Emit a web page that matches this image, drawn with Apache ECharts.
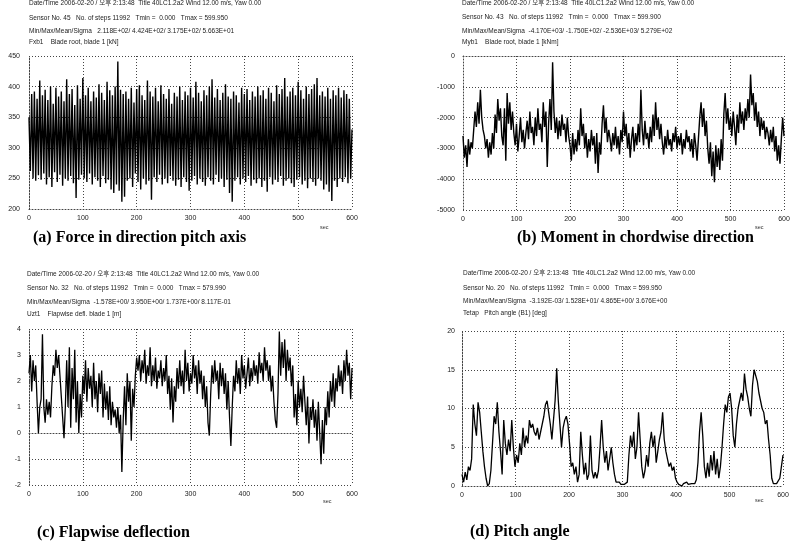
<!DOCTYPE html>
<html><head><meta charset="utf-8">
<script src="https://cdn.jsdelivr.net/npm/echarts@6/dist/echarts.min.js"></script>
<style>html,body{margin:0;padding:0;background:#fff}#c{width:796px;height:549px}</style>
</head><body><div id="c"></div>
<script>
// (a) Fxb1 blade root force [kN], samples evenly spaced over 0..600 s
const forceFxb1 = [
350,262,388,250,392,246,380,255,410,248,
386,258,395,240,378,252,400,236,372,260,
398,244,384,256,392,238,376,250,412,246,
388,254,396,242,370,218,402,248,380,256,
414,250,386,244,398,258,376,240,392,252,
382,246,404,236,390,254,378,242,408,248,
394,232,386,226,400,240,441,230,395,212,
388,220,392,246,380,250,398,236,374,258,
396,244,402,232,386,250,378,240,410,246,
392,215,384,252,398,244,376,256,402,240,
388,250,380,242,396,254,372,246,390,238,
384,248,400,236,378,252,392,244,386,230,
398,246,382,254,408,240,390,250,376,244,
394,238,386,252,400,246,412,240,382,256,
396,244,378,250,390,236,404,248,384,226,
380,212,392,246,386,252,374,240,398,250,
388,244,396,254,378,238,392,248,384,242,
400,250,386,236,394,246,380,228,398,252,
390,240,376,248,402,244,388,254,396,238,
414,246,384,250,392,242,398,236,386,248,
408,252,394,240,380,246,400,234,388,250,
396,244,404,238,414,250,386,246,392,232,
384,240,398,228,380,213,394,246,386,236,
398,250,382,244,394,252,388,242,380,250,
330];
// (b) Myb1 blade root moment [kNm]
const momentMyb1 = [
-2600,-3300,-2900,-3600,-2700,-3200,-2800,
-3000,-2400,-1800,-2300,-1500,-2200,-1100,-2000,-2400,
-2600,-3000,-2700,-3300,-2800,-3200,-2500,-3000,
-1900,-2500,-1400,-2100,-1700,-2600,
-2900,-1700,-3400,-1200,-2200,-1500,-2400,-1800,
-2500,-2900,-2200,-3100,-2600,-2000,-2800,-2400,-3000,-2500,
-2100,-2700,-1800,-2500,-2300,-2900,-2000,-2600,-1700,-2400,-2200,-2800,
-1500,-2300,-1800,-3600,-2200,-1400,-2400,
-200,
-1800,-2500,-2000,-2700,-2100,-2600,-1900,-2400,-2200,-2800,-2000,-2600,
-2900,-3400,-2500,-3200,-2700,-3100,-2400,-2900,-1700,-2600,-2200,-3000,-2500,-3300,-2700,-3100,-2400,-2900,-2600,-3500,-2500,-3800,-2800,-3200,
-2200,-1600,-2500,-2000,-2800,-2400,
-2700,-3100,-2500,-2900,-2300,-3000,-2600,-3200,-2400,-2800,-1800,-2600,-2200,-3000,-2500,-3300,-2700,-2300,-3100,-2500,-2900,-2200,-2800,
-1100,
-2400,-2900,-2100,-2700,-2500,-3000,-2300,-2800,-1900,-2600,
-1500,-2400,-2000,-2700,-2200,
-2800,-3200,-2600,-3000,-2400,-2900,-2700,-3100,-2500,-2800,-2300,-3000,-2600,-2900,-2500,-3200,-2700,-3000,-2400,-2800,-2600,-3100,-2700,-3300,-2500,-2900,-3400,-2700,
-2000,-1500,-2300,-1700,-2600,-2100,
-3000,-3500,-2800,-3900,-3100,-4100,-2900,-3600,-3000,-3700,-2700,-3400,
-1900,-1200,-2200,-1700,-2400,
-2000,-2600,-1800,-2300,-2900,-1900,-2500,-1500,-2200,-1800,-2400,-1700,-2100,
-1400,-2000,-600,-1600,-1200,-2100,-1500,
-2300,-1800,-2600,-2000,-2400,-2100,-2700,-2300,-2500,-2900,-2400,-2800,-2300,-3100,-2600,-3400,-2900,-3500,-2700,-2000,-2600];
// (c) Uzt1 flapwise deflection [m]
const deflUzt1 = [
2.3,3.0,1.6,2.8,2.0,2.6,
1.2,0.0,1.0,1.3,
3.8,
1.0,0.4,1.3,0.7,1.2,0.6,
1.8,2.6,2.2,3.2,2.5,3.0,2.2,1.4,
0.6,-0.2,1.0,2.8,
1.0,3.3,0.2,2.5,1.3,3.2,0.4,2.0,
0.0,1.5,0.6,
2.2,1.5,2.8,1.2,2.5,1.7,2.2,1.0,2.7,1.3,2.0,0.8,2.3,1.5,
2.4,0.6,1.9,0.9,1.6,0.5,1.8,0.3,1.2,0.6,0.9,
0.2,1.0,0.0,0.7,-1.5,0.5,
1.8,0.3,2.3,1.2,2.0,-0.3,1.7,1.0,2.2,
2.9,2.4,3.0,2.0,2.8,2.3,3.2,1.9,2.6,2.2,3.3,
1.8,2.6,2.0,2.9,1.7,2.4,2.1,2.8,1.8,2.5,2.0,3.0,1.5,2.2,0.9,2.1,
0.4,1.8,1.2,2.5,
1.7,2.8,1.8,2.4,1.5,3.2,2.0,2.7,1.6,2.3,1.9,3.0,2.1,2.6,1.5,2.8,1.9,2.4,1.3,2.2,1.0,1.8,
0.4,-0.1,
1.5,2.6,1.9,2.8,2.0,2.4,1.3,2.7,1.8,2.5,1.5,2.3,0.9,2.0,0.6,
-0.5,1.0,
2.2,1.6,2.8,1.9,2.5,1.5,3.0,2.1,2.6,1.7,2.3,2.9,1.8,2.5,2.0,2.8,2.2,2.6,1.9,3.1,2.3,2.7,2.0,3.3,2.4,2.8,2.0,2.6,1.6,2.2,1.2,
0.5,0.2,1.5,
3.9,
2.2,3.5,2.5,3.6,2.0,3.2,2.4,2.9,1.8,2.6,
0.6,1.5,0.3,2.0,1.0,1.7,0.8,2.2,
1.2,0.3,1.4,-0.4,1.0,0.5,1.3,0.2,0.9,-0.3,1.2,0.0,-1.2,0.5,-0.8,1.0,0.3,
1.6,0.6,2.0,1.2,2.3,1.0,2.1,1.6,2.6,1.8,2.4,1.5,2.8,2.0,3.2,2.2,2.7,1.3,2.5];
// (d) Tetap pitch angle [deg]
const pitchTetap = [
1.5,0.5,1.8,0.8,2.5,2.0,3.5,10.5,8.0,6.5,
10.8,9.5,7.0,4.5,2.5,1.0,0.0,0.3,2.0,5.5,
9.0,8.0,10.8,7.0,4.5,1.5,8.5,5.5,4.0,6.0,
4.5,8.5,5.0,2.5,4.0,3.0,5.5,4.0,7.5,5.0,
6.5,5.5,8.5,7.5,8.0,7.0,6.5,7.5,6.0,7.0,
8.0,9.0,10.5,11.0,9.5,8.0,6.0,8.5,11.0,15.2,
11.0,8.0,5.0,7.5,8.5,9.0,8.0,5.5,2.5,3.0,
1.5,2.5,0.5,1.5,7.0,4.0,1.5,3.0,0.8,1.5,
6.5,2.0,1.0,1.8,1.0,2.0,5.0,8.5,5.0,3.0,
4.5,2.0,3.5,5.0,3.0,1.5,0.5,0.3,0.5,0.2,
0.3,0.2,0.0,0.5,4.0,6.5,5.0,7.0,3.5,5.0,
9.5,6.0,2.5,1.0,2.0,4.0,2.5,5.5,7.0,5.0,
6.5,3.0,4.5,6.0,7.0,9.5,6.0,4.5,4.5,2.5,
3.0,2.0,2.5,1.0,0.5,0.2,0.1,0.0,0.3,0.1,
0.5,0.2,0.0,0.3,0.5,0.3,0.8,3.0,7.0,9.5,
6.5,2.5,1.0,3.0,1.2,4.0,2.0,4.5,1.5,3.5,
1.0,2.5,5.0,8.0,10.5,9.5,11.5,12.0,10.0,6.5,
5.0,8.0,10.0,11.0,12.0,11.0,14.5,12.5,11.5,10.0,
9.0,13.0,15.0,15.2,13.5,12.0,11.0,10.0,9.5,8.0,
8.5,6.0,4.0,1.0,0.3,0.4,0.3,0.5,1.0,2.5,
4.0];
const xTickLabels = ['0','100','200','300','400','500','600'];
const yRanges = [[200,450,50],[-5000,0,1000],[-2,4,1],[0,20,5]];
const captions = ['(a) Force in direction pitch axis','(b) Moment in chordwise direction','(c) Flapwise deflection','(d) Pitch angle'];
const headerLines = [
 ['Date/Time 2006-02-20 / 오후 2:13:48  Title 40LC1.2a2 Wind 12.00 m/s, Yaw 0.00',
  'Sensor No. 45   No. of steps 11992   Tmin =  0.000   Tmax = 599.950',
  'Min/Max/Mean/Sigma   2.118E+02/ 4.424E+02/ 3.175E+02/ 5.663E+01',
  'Fxb1    Blade root, blade 1 [kN]'],
 ['Date/Time 2006-02-20 / 오후 2:13:48  Title 40LC1.2a2 Wind 12.00 m/s, Yaw 0.00',
  'Sensor No. 43   No. of steps 11992   Tmin =  0.000   Tmax = 599.900',
  'Min/Max/Mean/Sigma  -4.170E+03/ -1.750E+02/ -2.536E+03/ 5.279E+02',
  'Myb1    Blade root, blade 1 [kNm]'],
 ['Date/Time 2006-02-20 / 오후 2:13:48  Title 40LC1.2a2 Wind 12.00 m/s, Yaw 0.00',
  'Sensor No. 32   No. of steps 11992   Tmin =  0.000   Tmax = 579.990',
  'Min/Max/Mean/Sigma  -1.578E+00/ 3.950E+00/ 1.737E+00/ 8.117E-01',
  'Uzt1    Flapwise defl. blade 1 [m]'],
 ['Date/Time 2006-02-20 / 오후 2:13:48  Title 40LC1.2a2 Wind 12.00 m/s, Yaw 0.00',
  'Sensor No. 20   No. of steps 11992   Tmin =  0.000   Tmax = 599.950',
  'Min/Max/Mean/Sigma  -3.192E-03/ 1.528E+01/ 4.865E+00/ 3.676E+00',
  'Tetap   Pitch angle (B1) [deg]']
];
const seriesData = [forceFxb1, momentMyb1, deflUzt1, pitchTetap];

const grids = [
 {left:29, top:56, width:323, height:153},
 {left:463, top:56, width:321, height:154},
 {left:29, top:329, width:323, height:156},
 {left:462, top:331, width:321, height:155}
];
const headerY = [[4,19,32,43],[4,18,32,43],[275,289,303,315],[274,289,302,314]];
const headerX = [29,462,27,463];
const capPos = [[33,239],[517,239],[37,534],[470,533]];
const secPos = [[320,228],[755,228],[323,502],[755,501]];
const yMargins = [9,8,8,7];
const lineWidths = [1.4,1.4,1.3,1.3];

const FONT = 'Liberation Sans, Noto Sans CJK KR, sans-serif';
const dotted = {color:'#444', width:1, type:[1,2]};

function toPairs(arr){ const n = arr.length-1; return arr.map((v,i)=>[i*600/n, v]); }

const xAxis = grids.map((g,i)=>({
  type:'value', gridIndex:i, min:0, max:600, interval:100,
  axisLine:{show:true, lineStyle:dotted}, axisTick:{show:false},
  splitLine:{show:true, lineStyle:dotted},
  axisLabel:{fontSize:7, color:'#222', fontFamily:FONT, margin:6,
    formatter:(v)=>xTickLabels[Math.round(v/100)]}
}));
const yAxis = grids.map((g,i)=>({
  type:'value', gridIndex:i, min:yRanges[i][0], max:yRanges[i][1], interval:yRanges[i][2],
  axisLine:{show:true, lineStyle:dotted}, axisTick:{show:false},
  splitLine:{show:true, lineStyle:dotted},
  axisLabel:{fontSize:7, color:'#222', fontFamily:FONT, margin:yMargins[i], formatter:(v)=>String(v)}
}));
const series = seriesData.map((d,i)=>({
  type:'line', xAxisIndex:i, yAxisIndex:i, data:toPairs(d), showSymbol:false,
  sampling:'none', lineStyle:{color:'#000', width:lineWidths[i]}, silent:true
}));
const graphic = [];
headerLines.forEach((lines,i)=>{
  lines.forEach((t,j)=>{
    graphic.push({type:'text', left:headerX[i], top:headerY[i][j]-4, silent:true,
      style:{text:t, fontSize:6.5, fill:'#222', fontFamily:FONT}});
  });
  graphic.push({type:'text', left:capPos[i][0], top:capPos[i][1]-9, silent:true,
    style:{text:captions[i], fontSize:16, fontWeight:'bold', fill:'#000', fontFamily:'Liberation Serif, serif'}});
  graphic.push({type:'text', left:secPos[i][0], top:secPos[i][1]-3, silent:true,
    style:{text:'sec', fontSize:5.5, fill:'#333', fontFamily:FONT}});
});

const chart = echarts.init(document.getElementById('c'), null, {renderer:'canvas'});
chart.setOption({animation:false, backgroundColor:'#fff', grid:grids, xAxis, yAxis, series, graphic});
</script>
</body></html>
